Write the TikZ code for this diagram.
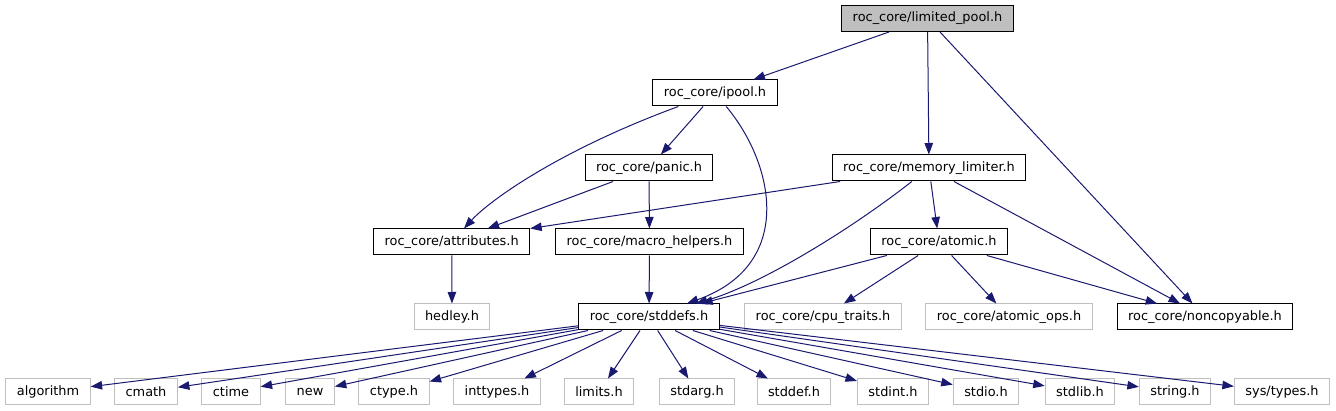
\documentclass[tikz,border=0pt]{standalone}
\usepackage{fontspec}
\setmainfont{DejaVu Sans}
\usetikzlibrary{arrows.meta}
\definecolor{depBlue}{RGB}{25,25,112}
\definecolor{depGray}{RGB}{191,191,191}

\begin{document}
\begin{tikzpicture}[
    x=1pt, y=-1pt,
    depBox/.style={rectangle,draw=black,fill=white,line width=1pt,minimum height=26pt,inner xsep=11pt,inner ysep=0pt,font=\fontsize{12.9}{15}\selectfont},
    depBoxExt/.style={depBox,draw=depGray},
    depBoxMain/.style={depBox,fill=depGray},
    depArrow/.style={-{Triangle[length=11.5pt,width=8.5pt]},color=depBlue,line width=1pt},
]
\useasboundingbox (0,0) rectangle (1336,411);
% top levels
\node[depBoxMain] (depLimited) at (927.5,18.5) {roc\_core/limited\_pool.h};
\node[depBox] (depIpool) at (715,93) {roc\_core/ipool.h};
\node[depBox] (depPanic) at (649,168) {roc\_core/panic.h};
\node[depBox] (depMem) at (929,168) {roc\_core/memory\_limiter.h};
\node[depBox] (depAttr) at (451.7,242) {roc\_core/attributes.h};
\node[depBox] (depMacro) at (649.5,242) {roc\_core/macro\_helpers.h};
\node[depBox] (depAtomic) at (939,242) {roc\_core/atomic.h};
\node[depBoxExt] (depHedley) at (452,317) {hedley.h};
\node[depBox] (depStd) at (649,317) {roc\_core/stddefs.h};
\node[depBoxExt] (depCpu) at (823,317) {roc\_core/cpu\_traits.h};
\node[depBoxExt] (depAtOps) at (1009,317) {roc\_core/atomic\_ops.h};
\node[depBox] (depNoncopy) at (1205,317) {roc\_core/noncopyable.h};
% system headers
\node[depBoxExt] (sysAlgo) at (48,392) {algorithm};
\node[depBoxExt] (sysCmath) at (146,392) {cmath};
\node[depBoxExt] (sysCtime) at (231,392) {ctime};
\node[depBoxExt] (sysNew) at (310,392) {new};
\node[depBoxExt] (sysCtype) at (394,392) {ctype.h};
\node[depBoxExt] (sysInttypes) at (497,392) {inttypes.h};
\node[depBoxExt] (sysLimits) at (599,392) {limits.h};
\node[depBoxExt] (sysStdarg) at (697,392) {stdarg.h};
\node[depBoxExt] (sysStddef) at (794,392) {stddef.h};
\node[depBoxExt] (sysStdint) at (893,392) {stdint.h};
\node[depBoxExt] (sysStdio) at (986,392) {stdio.h};
\node[depBoxExt] (sysStdlib) at (1080,392) {stdlib.h};
\node[depBoxExt] (sysString) at (1175,392) {string.h};
\node[depBoxExt] (sysTypes) at (1282,392) {sys/types.h};
% includes
\draw[depArrow] (depLimited) -- (depIpool);
\draw[depArrow] (depLimited) -- (depMem);
\draw[depArrow] (depLimited) -- (depNoncopy);
\draw[depArrow] (depIpool) .. controls (560,150) and (490,200) .. (depAttr);
\draw[depArrow] (depIpool) -- (depPanic);
\draw[depArrow] (depIpool) .. controls (775,165) and (795,265) .. (depStd);
\draw[depArrow] (depPanic) -- (depAttr);
\draw[depArrow] (depPanic) -- (depMacro);
\draw[depArrow] (depMem) -- (depAttr.north east);
\draw[depArrow] (depMem) .. controls (850,230) and (760,285) .. (depStd);
\draw[depArrow] (depMem) -- (depAtomic);
\draw[depArrow] (depMem) -- (depNoncopy);
\draw[depArrow] (depAttr) -- (depHedley);
\draw[depArrow] (depMacro) -- (depStd);
\draw[depArrow] (depAtomic) -- (depStd);
\draw[depArrow] (depAtomic) -- (depCpu);
\draw[depArrow] (depAtomic) -- (depAtOps);
\draw[depArrow] (depAtomic) -- (depNoncopy);
% stddefs fan-out
\draw[depArrow] (depStd) -- (sysAlgo);
\draw[depArrow] (depStd) -- (sysCmath);
\draw[depArrow] (depStd) -- (sysCtime);
\draw[depArrow] (depStd) -- (sysNew);
\draw[depArrow] (depStd) -- (sysCtype);
\draw[depArrow] (depStd) -- (sysInttypes);
\draw[depArrow] (depStd) -- (sysLimits);
\draw[depArrow] (depStd) -- (sysStdarg);
\draw[depArrow] (depStd) -- (sysStddef);
\draw[depArrow] (depStd) -- (sysStdint);
\draw[depArrow] (depStd) -- (sysStdio);
\draw[depArrow] (depStd) -- (sysStdlib);
\draw[depArrow] (depStd) -- (sysString);
\draw[depArrow] (depStd) -- (sysTypes);
\end{tikzpicture}
\end{document}
